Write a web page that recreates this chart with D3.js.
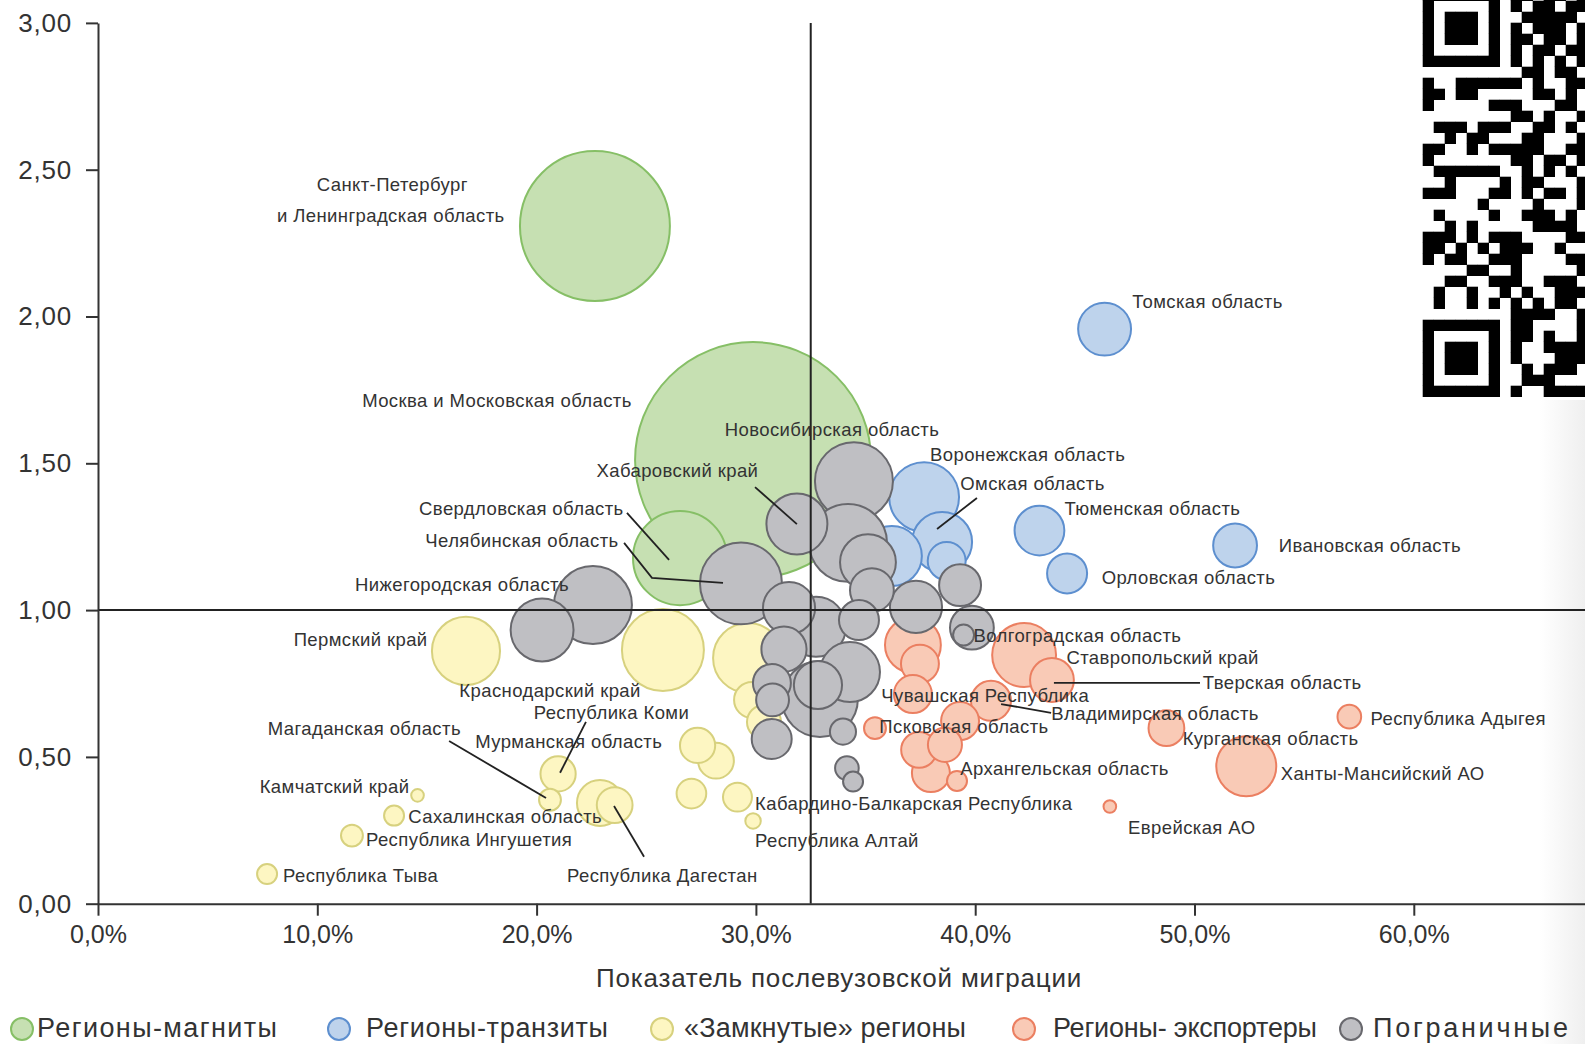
<!DOCTYPE html>
<html><head><meta charset="utf-8">
<script src="https://cdn.jsdelivr.net/npm/d3@7"></script>
<style>
html,body{margin:0;padding:0;background:#fff;overflow:hidden}
svg{display:block;font-family:"Liberation Sans",Arial,Helvetica,sans-serif}
</style></head><body>
<svg id="chart" width="1585" height="1044"></svg>
<script>
// ---------- DATA ----------
const groups = ["Регионы-магниты", "Регионы-транзиты", "«Замкнутые» регионы", "Регионы- экспортеры", "Пограничные"];

// bubble group index, x (% post-university migration), y (index), size (bubble area units)
const bubbleGroup = [0,0,0, 1,1,1,1,1,1,1,1, 2,2,2,2,2,2,2,2,2,2,2,2,2,2,2,2,2,2,
  3,3,3,3,3,3,3,3,3,3,3,3,3,3,3,3, 4,4,4,4,4,4,4,4,4,4,4,4,4,4,4,4,4,4,4,4,4,4,4,4,4];
const bubbleX = [22.66,29.87,26.54, 45.90,37.67,38.49,38.70,36.20,42.93,44.19,51.85,
  16.78,25.76,29.64,29.82,30.37,20.98,20.61,22.89,23.56,27.34,28.18,27.06,29.16,29.87,14.57,13.50,11.58,7.71,
  37.16,37.48,37.16,35.43,39.31,40.72,37.44,38.62,37.98,39.17,42.23,43.50,48.72,57.06,52.36,46.14,
  34.47,34.20,31.87,29.32,22.57,20.25,35.11,35.29,31.51,32.74,34.70,37.30,39.31,39.85,39.47,31.28,34.29,32.92,32.83,30.73,30.76,30.72,33.97,34.15,34.43];
const bubbleY = [2.308,1.511,1.177, 1.957,1.385,1.232,1.167,1.184,1.271,1.125,1.220,
  0.861,0.864,0.837,0.694,0.619,0.442,0.354,0.343,0.336,0.539,0.487,0.375,0.363,0.282,0.369,0.300,0.232,0.101,
  0.881,0.817,0.714,0.598,0.622,0.691,0.524,0.541,0.445,0.418,0.847,0.762,0.598,0.637,0.468,0.331,
  1.439,1.229,1.293,1.091,1.017,0.932,1.163,1.068,1.007,0.943,0.966,1.011,1.085,0.940,0.915,0.867,0.789,0.697,0.745,0.752,0.694,0.561,0.586,0.462,0.416];
const bubbleSize = [562,1392,221, 70,122,90,36,90,62,40,48,
  116,168,122,32,29,31,12,53,32,31,32,22,21,6,4,10,12,10,
  78,36,36,12,36,40,32,29,36,10,102,48,32,14,90,4,
  152,152,93,168,152,99,78,48,68,90,40,68,44,48,11,51,90,144,58,36,27,40,17,14,10];

// axis ticks and quadrant thresholds
const xTicks = [0,10,20,30,40,50,60];
const yTicks = [0,0.5,1,1.5,2,2.5,3];
const xThreshold = 32.5;
const yThreshold = 1.0;

// annotation labels (data coordinates)
const labelText = ["Санкт-Петербург","и Ленинградская область","Москва и Московская область","Новосибирская область",
  "Воронежская область","Хабаровский край","Омская область","Тюменская область","Свердловская область",
  "Челябинская область","Ивановская область","Орловская область","Нижегородская область","Томская область",
  "Пермский край","Волгоградская область","Ставропольский край","Тверская область","Краснодарский край",
  "Чувашская Республика","Республика Коми","Владимирская область","Республика Адыгея","Магаданская область",
  "Псковская область","Курганская область","Мурманская область","Архангельская область","Ханты-Мансийский АО",
  "Камчатский край","Кабардино-Балкарская Республика","Сахалинская область","Еврейская АО","Республика Ингушетия",
  "Республика Алтай","Республика Тыва","Республика Дагестан"];
const labelX = [13.42,13.35,24.34,28.58,37.94,22.73,39.32,44.07,23.97,23.74,53.84,45.77,21.48,47.16,
  15.03,39.92,44.16,50.38,24.75,35.72,19.87,43.47,58.03,16.55,35.63,49.46,17.2,39.32,53.93,
  14.2,29.96,14.15,46.97,12.22,29.96,8.44,21.39];
const labelY = [2.451,2.345,1.715,1.615,1.529,1.477,1.432,1.346,1.346,1.236,1.219,1.112,1.088,2.052,
  0.899,0.912,0.840,0.754,0.727,0.709,0.651,0.647,0.630,0.596,0.603,0.561,0.551,0.462,0.444,
  0.400,0.341,0.296,0.259,0.217,0.214,0.096,0.096];
const labelAlign = ["middle","middle","end","start","start","start","start","start","end","end","start","start","end","start",
  "end","start","start","start","end","start","start","start","start","end","start","start","start","start","start",
  "end","start","start","start","start","start","start","start"];

// leader lines (data coordinates)
const leaderLines = [
  [[29.96,1.419],[31.87,1.293]],
  [[24.12,1.331],[26.04,1.171]],
  [[23.99,1.229],[25.26,1.110],[28.5,1.093]],
  [[40.08,1.382],[38.26,1.276]],
  [[43.59,0.752],[50.25,0.752]],
  [[41.18,0.680],[43.46,0.650]],
  [[16.01,0.554],[20.43,0.360]],
  [[22.25,0.619],[21.07,0.446]],
  [[23.53,0.333],[24.9,0.160]]
];

// QR code modules (decorative image in the top right corner)
const qrRows = [
  "111111101101101","100000101011011","101110100111110","101110101011101","101110101101101",
  "100000101011011","111111101010101","000000000110110","100111111010011","110110000011010",
  "100000111000110","000000001101001","011101110011010","001011000110001","110010111110011",
  "100000001101101","011111100101010","001000010110001","111000110101101","000001000010001",
  "010000100111010","001010000011110","111010111000011","110101011100100","101100111000011",
  "000011001000001","001100111001110","010010010100111","010010101010110","000000001111001",
  "111111101100001","100000101101001","101110101001111","101110101000111","101110100101110",
  "100000100111000","111111101001111"
];

// ---------- STYLE ----------
const fills   = ["#c6e0b2","#bed3ec","#fdf6c2","#f9cab6","#bfbfc3"];
const strokes = ["#86bf66","#5d8fcf","#d7d17e","#eb7f61","#68686d"];
const groupDrawOrder = [0,2,3,1,4];

// ---------- CHART ----------
const W = 1585, H = 1044;
const svg = d3.select("#chart");

const x = d3.scaleLinear().domain([0,70]).range([98, 98 + 219.3*7]);
const y = d3.scaleLinear().domain([0,3]).range([903.7, 22.9]);
const r = d3.scaleSqrt().domain([0,1440]).range([0,120]);

// faint shading at the right edge
const defs = svg.append("defs");
const grad = defs.append("linearGradient").attr("id","edge").attr("x1","0").attr("x2","1").attr("y1","0").attr("y2","0");
grad.append("stop").attr("offset","0").attr("stop-color","#ffffff");
grad.append("stop").attr("offset","1").attr("stop-color","#efefef");
svg.append("rect").attr("x",1540).attr("y",400).attr("width",45).attr("height",H-400).attr("fill","url(#edge)");

// QR code
const qr = svg.append("g").attr("transform","translate(1422.7,-10.3)");
qrRows.forEach((row, ri) => {
  row.split("").forEach((c, ci) => {
    if (c === "1") qr.append("rect").attr("x", ci*11).attr("y", ri*11).attr("width",11.3).attr("height",11.3).attr("fill","#000");
  });
});

// bubbles
const bubbles = bubbleX.map((v,i) => ({g: bubbleGroup[i], x: v, y: bubbleY[i], s: bubbleSize[i], i}));
const ordered = [];
groupDrawOrder.forEach(g => {
  bubbles.filter(b => b.g === g).sort((a,b) => b.s - a.s).forEach(b => ordered.push(b));
});
svg.append("g").selectAll("circle").data(ordered).join("circle")
  .attr("cx", d => x(d.x)).attr("cy", d => y(d.y)).attr("r", d => r(d.s))
  .attr("fill", d => fills[d.g]).attr("stroke", d => strokes[d.g]).attr("stroke-width", 2);

// quadrant lines
svg.append("line").attr("x1", x(xThreshold)).attr("x2", x(xThreshold)).attr("y1", y(3)).attr("y2", y(0))
  .attr("stroke","#222").attr("stroke-width",2);
svg.append("line").attr("x1", x(0)).attr("x2", W).attr("y1", y(yThreshold)).attr("y2", y(yThreshold))
  .attr("stroke","#222").attr("stroke-width",2);

// axes
const fmtY = d => d.toFixed(2).replace(".", ",");
const fmtX = d => d.toFixed(1).replace(".", ",") + "%";
const gy = svg.append("g").attr("transform", `translate(${x(0)},0)`)
  .call(d3.axisLeft(y).tickValues(yTicks).tickSize(12).tickSizeOuter(0).tickPadding(14).tickFormat(fmtY));
const gx = svg.append("g").attr("transform", `translate(0,${y(0)})`)
  .call(d3.axisBottom(x).tickValues(xTicks).tickSize(12).tickSizeOuter(0).tickPadding(10).tickFormat(fmtX));
[gx, gy].forEach(g => {
  g.select(".domain").attr("stroke","#333").attr("stroke-width",2);
  g.selectAll(".tick line").attr("stroke","#333").attr("stroke-width",2);
  g.selectAll(".tick text").attr("fill","#333")
    .style("font-family",'"Liberation Sans",Arial,sans-serif');
});
gx.selectAll(".tick text").style("font-size","25px");
gy.selectAll(".tick text").style("font-size","26px").style("letter-spacing","0.8px");

// axis title
svg.append("text").attr("x", 839).attr("y", 978).attr("dy","0.35em").attr("text-anchor","middle")
  .attr("fill","#333").style("font-size","26px").style("letter-spacing","0.8px")
  .text("Показатель послевузовской миграции");

// leader lines
const lineGen = d3.line().x(d => x(d[0])).y(d => y(d[1]));
svg.append("g").selectAll("path").data(leaderLines).join("path")
  .attr("d", lineGen).attr("fill","none").attr("stroke","#222").attr("stroke-width",1.8);

// labels
svg.append("g").selectAll("text").data(labelText).join("text")
  .attr("x", (d,i) => x(labelX[i])).attr("y", (d,i) => y(labelY[i])).attr("dy","0.35em")
  .attr("text-anchor", (d,i) => labelAlign[i])
  .attr("fill","#333").style("font-size","18.5px").style("letter-spacing","0.4px")
  .text(d => d);

// legend
const legendCx = [22, 339, 662, 1024, 1351];
const legendTx = [37, 366, 684, 1053, 1373];
const legendW  = [240, 242, 282, 264, 195];
const lg = svg.append("g");
groups.forEach((name, i) => {
  lg.append("circle").attr("cx", legendCx[i]).attr("cy", 1029).attr("r", 11)
    .attr("fill", fills[i]).attr("stroke", strokes[i]).attr("stroke-width", 2);
  lg.append("text").attr("x", legendTx[i]).attr("y", 1028).attr("dy","0.35em")
    .attr("textLength", legendW[i]).attr("lengthAdjust","spacing")
    .attr("fill","#333").style("font-size","27px").text(name);
});
</script>
</body></html>
